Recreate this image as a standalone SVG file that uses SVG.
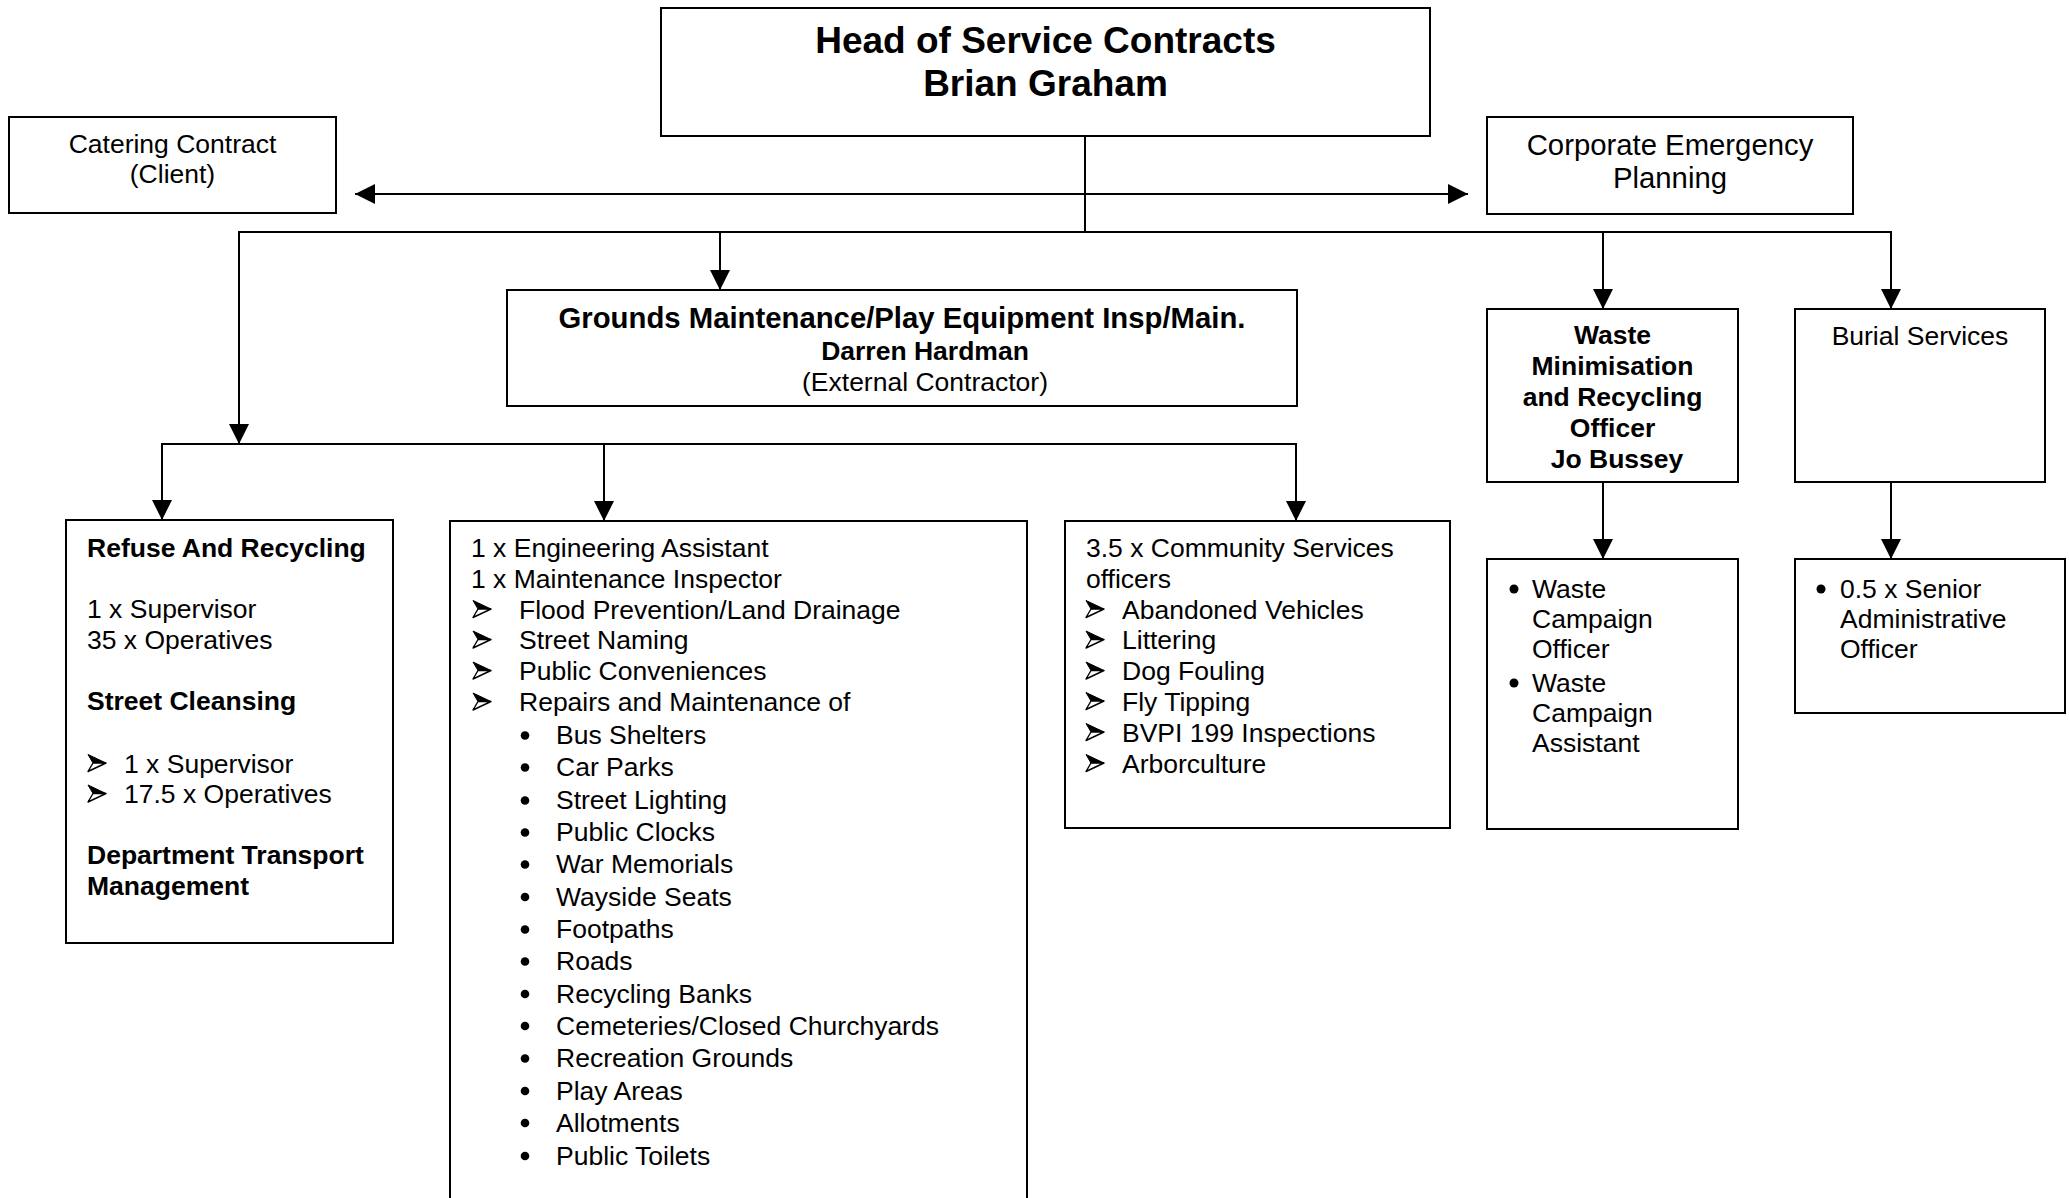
<svg xmlns="http://www.w3.org/2000/svg" xmlns:xlink="http://www.w3.org/1999/xlink" width="2069" height="1198" viewBox="0 0 2069 1198">
  <style>
    .box { fill: #fff; stroke: #000; stroke-width: 2; }
    .t { font-family: "Liberation Sans", Arial, Helvetica, sans-serif; font-size: 26.5px; fill: #000; }
    .b { font-weight: bold; }
    .c { text-anchor: middle; }
    .big { font-size: 37px; }
    .mid { font-size: 29.3px; }
    .wire { fill: none; stroke: #000; stroke-width: 2; }
    .dot { fill: #000; }
  </style>
  <defs>
    <marker id="ah" viewBox="0 0 20 20" refX="20" refY="10" markerWidth="20" markerHeight="20" markerUnits="userSpaceOnUse" orient="auto-start-reverse">
      <path d="M0,0 L20,10 L0,20 z" fill="#000"/>
    </marker>
    <!-- 3D arrowhead list bullet -->
    <g id="abul">
      <path d="M0,-17 L18,-8.5 L5,-8.5 z" fill="#000" stroke="#000" stroke-width="1" stroke-linejoin="round"/>
      <path d="M5,-8.5 L18,-8.5 L0,0 z" fill="#fff" stroke="#000" stroke-width="1.4" stroke-linejoin="round"/>
    </g>
  </defs>
  <rect width="2069" height="1198" fill="#fff"/>

  <g id="connectors">
    <path class="wire" d="M1085,136 V232"/>
    <path class="wire" d="M355,194 H1468" marker-start="url(#ah)" marker-end="url(#ah)"/>
    <path class="wire" d="M239,444 V232 H1891 V309" marker-start="url(#ah)" marker-end="url(#ah)"/>
    <path class="wire" d="M720,232 V290" marker-end="url(#ah)"/>
    <path class="wire" d="M1603,232 V309" marker-end="url(#ah)"/>
    <path class="wire" d="M162,520 V444 H1296 V521" marker-start="url(#ah)" marker-end="url(#ah)"/>
    <path class="wire" d="M604,444 V521" marker-end="url(#ah)"/>
    <path class="wire" d="M1603,482 V559" marker-end="url(#ah)"/>
    <path class="wire" d="M1891,482 V559" marker-end="url(#ah)"/>
  </g>

  <g id="head">
    <rect class="box" x="661" y="8" width="769" height="128"/>
    <text class="t b c big" x="1045.5" y="53">Head of Service Contracts</text>
    <text class="t b c big" x="1045.5" y="96">Brian Graham</text>
  </g>

  <g id="catering">
    <rect class="box" x="9" y="117" width="327" height="96"/>
    <text class="t c" x="172.5" y="153">Catering Contract</text>
    <text class="t c" x="172.5" y="183">(Client)</text>
  </g>

  <g id="emergency">
    <rect class="box" x="1487" y="117" width="366" height="97"/>
    <text class="t c mid" x="1670" y="155">Corporate Emergency</text>
    <text class="t c mid" x="1670" y="188">Planning</text>
  </g>

  <g id="grounds">
    <rect class="box" x="507" y="290" width="790" height="116"/>
    <text class="t b c mid" x="902" y="328">Grounds Maintenance/Play Equipment Insp/Main.</text>
    <text class="t b c" x="925" y="359.5">Darren Hardman</text>
    <text class="t c" x="925" y="391">(External Contractor)</text>
  </g>

  <g id="waste-officer">
    <rect class="box" x="1487" y="309" width="251" height="173"/>
    <text class="t b c" x="1612.5" y="344">Waste</text>
    <text class="t b c" x="1612.5" y="375">Minimisation</text>
    <text class="t b c" x="1612.5" y="406">and Recycling</text>
    <text class="t b c" x="1612.5" y="437">Officer</text>
    <text class="t b c" x="1617" y="467.5">Jo Bussey</text>
  </g>

  <g id="burial">
    <rect class="box" x="1795" y="309" width="250" height="173"/>
    <text class="t c" x="1920" y="345">Burial Services</text>
  </g>

  <g id="refuse">
    <rect class="box" x="66" y="520" width="327" height="423"/>
    <text class="t b" x="87" y="556.5">Refuse And Recycling</text>
    <text class="t" x="87" y="618">1 x Supervisor</text>
    <text class="t" x="87" y="648.5">35 x Operatives</text>
    <text class="t b" x="87" y="710">Street Cleansing</text>
    <use xlink:href="#abul" href="#abul" x="88" y="771.5"/>
    <text class="t" x="124" y="772.5">1 x Supervisor</text>
    <use xlink:href="#abul" href="#abul" x="88" y="802"/>
    <text class="t" x="124" y="803">17.5 x Operatives</text>
    <text class="t b" x="87" y="864">Department Transport</text>
    <text class="t b" x="87" y="895">Management</text>
  </g>

  <g id="engineering">
    <rect class="box" x="450" y="521" width="577" height="720"/>
    <text class="t" x="471" y="556.5">1 x Engineering Assistant</text>
    <text class="t" x="471" y="587.5">1 x Maintenance Inspector</text>
    <use xlink:href="#abul" href="#abul" x="473" y="617.5"/>
    <text class="t" x="519" y="618.5">Flood Prevention/Land Drainage</text>
    <use xlink:href="#abul" href="#abul" x="473" y="648"/>
    <text class="t" x="519" y="649">Street Naming</text>
    <use xlink:href="#abul" href="#abul" x="473" y="679"/>
    <text class="t" x="519" y="680">Public Conveniences</text>
    <use xlink:href="#abul" href="#abul" x="473" y="710"/>
    <text class="t" x="519" y="711">Repairs and Maintenance of</text>
    <circle class="dot" cx="525" cy="735.5" r="4.3"/>
    <text class="t" x="556" y="744">Bus Shelters</text>
    <circle class="dot" cx="525" cy="767.5" r="4.3"/>
    <text class="t" x="556" y="776">Car Parks</text>
    <circle class="dot" cx="525" cy="800.5" r="4.3"/>
    <text class="t" x="556" y="809">Street Lighting</text>
    <circle class="dot" cx="525" cy="832.5" r="4.3"/>
    <text class="t" x="556" y="841">Public Clocks</text>
    <circle class="dot" cx="525" cy="864.5" r="4.3"/>
    <text class="t" x="556" y="873">War Memorials</text>
    <circle class="dot" cx="525" cy="897" r="4.3"/>
    <text class="t" x="556" y="905.5">Wayside Seats</text>
    <circle class="dot" cx="525" cy="929.5" r="4.3"/>
    <text class="t" x="556" y="938">Footpaths</text>
    <circle class="dot" cx="525" cy="961.5" r="4.3"/>
    <text class="t" x="556" y="970">Roads</text>
    <circle class="dot" cx="525" cy="994" r="4.3"/>
    <text class="t" x="556" y="1002.5">Recycling Banks</text>
    <circle class="dot" cx="525" cy="1026" r="4.3"/>
    <text class="t" x="556" y="1034.5">Cemeteries/Closed Churchyards</text>
    <circle class="dot" cx="525" cy="1058.5" r="4.3"/>
    <text class="t" x="556" y="1067">Recreation Grounds</text>
    <circle class="dot" cx="525" cy="1091" r="4.3"/>
    <text class="t" x="556" y="1099.5">Play Areas</text>
    <circle class="dot" cx="525" cy="1123" r="4.3"/>
    <text class="t" x="556" y="1131.5">Allotments</text>
    <circle class="dot" cx="525" cy="1156" r="4.3"/>
    <text class="t" x="556" y="1164.5">Public Toilets</text>
  </g>

  <g id="community">
    <rect class="box" x="1065" y="521" width="385" height="307"/>
    <text class="t" x="1086" y="556.5">3.5 x Community Services</text>
    <text class="t" x="1086" y="587.5">officers</text>
    <use xlink:href="#abul" href="#abul" x="1086" y="617.5"/>
    <text class="t" x="1122" y="618.5">Abandoned Vehicles</text>
    <use xlink:href="#abul" href="#abul" x="1086" y="648"/>
    <text class="t" x="1122" y="649">Littering</text>
    <use xlink:href="#abul" href="#abul" x="1086" y="679"/>
    <text class="t" x="1122" y="680">Dog Fouling</text>
    <use xlink:href="#abul" href="#abul" x="1086" y="709.5"/>
    <text class="t" x="1122" y="710.5">Fly Tipping</text>
    <use xlink:href="#abul" href="#abul" x="1086" y="740.5"/>
    <text class="t" x="1122" y="741.5">BVPI 199 Inspections</text>
    <use xlink:href="#abul" href="#abul" x="1086" y="771.5"/>
    <text class="t" x="1122" y="772.5">Arborculture</text>
  </g>

  <g id="waste-campaign">
    <rect class="box" x="1487" y="559" width="251" height="270"/>
    <circle class="dot" cx="1514" cy="589" r="4.5"/>
    <text class="t" x="1532" y="598">Waste</text>
    <text class="t" x="1532" y="628">Campaign</text>
    <text class="t" x="1532" y="658">Officer</text>
    <circle class="dot" cx="1514" cy="683" r="4.5"/>
    <text class="t" x="1532" y="692">Waste</text>
    <text class="t" x="1532" y="722">Campaign</text>
    <text class="t" x="1532" y="752">Assistant</text>
  </g>

  <g id="burial-admin">
    <rect class="box" x="1795" y="559" width="270" height="154"/>
    <circle class="dot" cx="1821" cy="589" r="4.5"/>
    <text class="t" x="1840" y="598">0.5 x Senior</text>
    <text class="t" x="1840" y="628">Administrative</text>
    <text class="t" x="1840" y="658">Officer</text>
  </g>
</svg>
